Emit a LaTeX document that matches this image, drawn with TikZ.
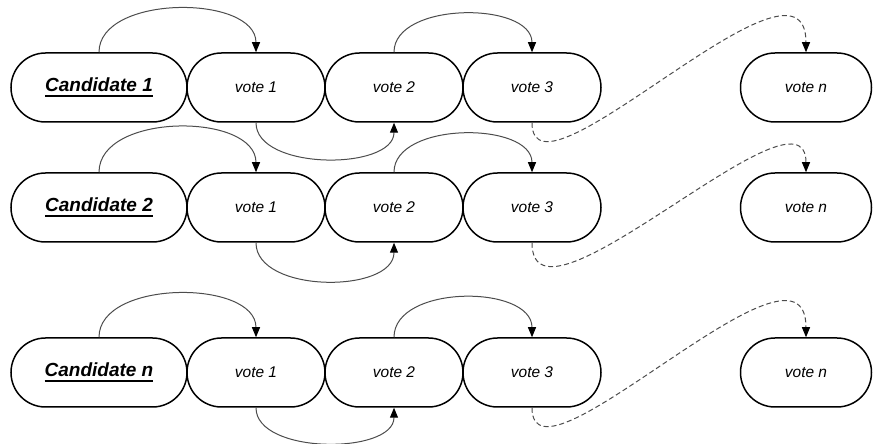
\documentclass[tikz,border=0pt]{standalone}
\usepackage{fontspec}
\setmainfont{Liberation Sans}
\usetikzlibrary{shapes.misc,arrows.meta}
\newcommand\thickul[1]{\setbox0\hbox{#1}\leavevmode\rlap{\rule[-5pt]{\wd0}{2.2pt}}\box0}
\begin{document}
\begin{tikzpicture}[x=1pt,y=1pt,
  pill/.style={rounded rectangle, draw=black, line width=1.5pt, minimum height=69pt, inner sep=0pt, fill=white},
  cand/.style={pill, minimum width=176pt, font=\fontsize{19}{22}\selectfont\bfseries\itshape},
  vote/.style={pill, minimum width=138pt, font=\fontsize{15.5}{18}\selectfont\itshape},
  voten/.style={pill, minimum width=131pt, font=\fontsize{15.5}{18}\selectfont\itshape},
  arc/.style={draw=black!70, line width=1pt, -{Triangle[length=10pt,width=8pt,black]}},
  darc/.style={arc, dashed, dash pattern=on 5pt off 3pt}
]
\useasboundingbox (0,0) rectangle (873,444);
% Row 1
\node[cand] (c1) at (99,356.5) {\thickul{Candidate 1}};
\node[vote] (a1) at (256,356.5) {vote 1};
\node[vote] (b1) at (394,356.5) {vote 2};
\node[vote] (d1) at (532,356.5) {vote 3};
\node[voten] (n1) at (806,356.5) {vote n};
% Row 2
\node[cand] (c2) at (99,236.5) {\thickul{Candidate 2}};
\node[vote] (a2) at (256,236.5) {vote 1};
\node[vote] (b2) at (394,236.5) {vote 2};
\node[vote] (d2) at (532,236.5) {vote 3};
\node[voten] (n2) at (806,236.5) {vote n};
% Row 3
\node[cand] (c3) at (99,71.5) {\thickul{Candidate n}};
\node[vote] (a3) at (256,71.5) {vote 1};
\node[vote] (b3) at (394,71.5) {vote 2};
\node[vote] (d3) at (532,71.5) {vote 3};
\node[voten] (n3) at (806,71.5) {vote n};
% Row 1 connectors
\draw[arc] (c1.north) .. controls +(0,58) and +(0,58) .. (a1.north);
\draw[arc] (a1.south) .. controls +(0,-48) and +(0,-48) .. (b1.south);
\draw[arc] (b1.north) .. controls +(0,51) and +(0,51) .. (d1.north);
\draw[darc] (d1.south) .. controls +(0,-93) and +(0,123) .. (n1.north);
% Row 2 connectors
\draw[arc] (c2.north) .. controls +(0,60) and +(0,60) .. (a2.north);
\draw[arc] (a2.south) .. controls +(0,-51) and +(0,-51) .. (b2.south);
\draw[arc] (b2.north) .. controls +(0,51) and +(0,51) .. (d2.north);
\draw[darc] (d2.south) .. controls +(0,-104) and +(0,100) .. (n2.north);
% Row 3 connectors
\draw[arc] (c3.north) .. controls +(0,58) and +(0,58) .. (a3.north);
\draw[arc] (a3.south) .. controls +(0,-47) and +(0,-47) .. (b3.south);
\draw[arc] (b3.north) .. controls +(0,53) and +(0,53) .. (d3.north);
\draw[darc] (d3.south) .. controls +(0,-93) and +(0,123) .. (n3.north);
\end{tikzpicture}
\end{document}
